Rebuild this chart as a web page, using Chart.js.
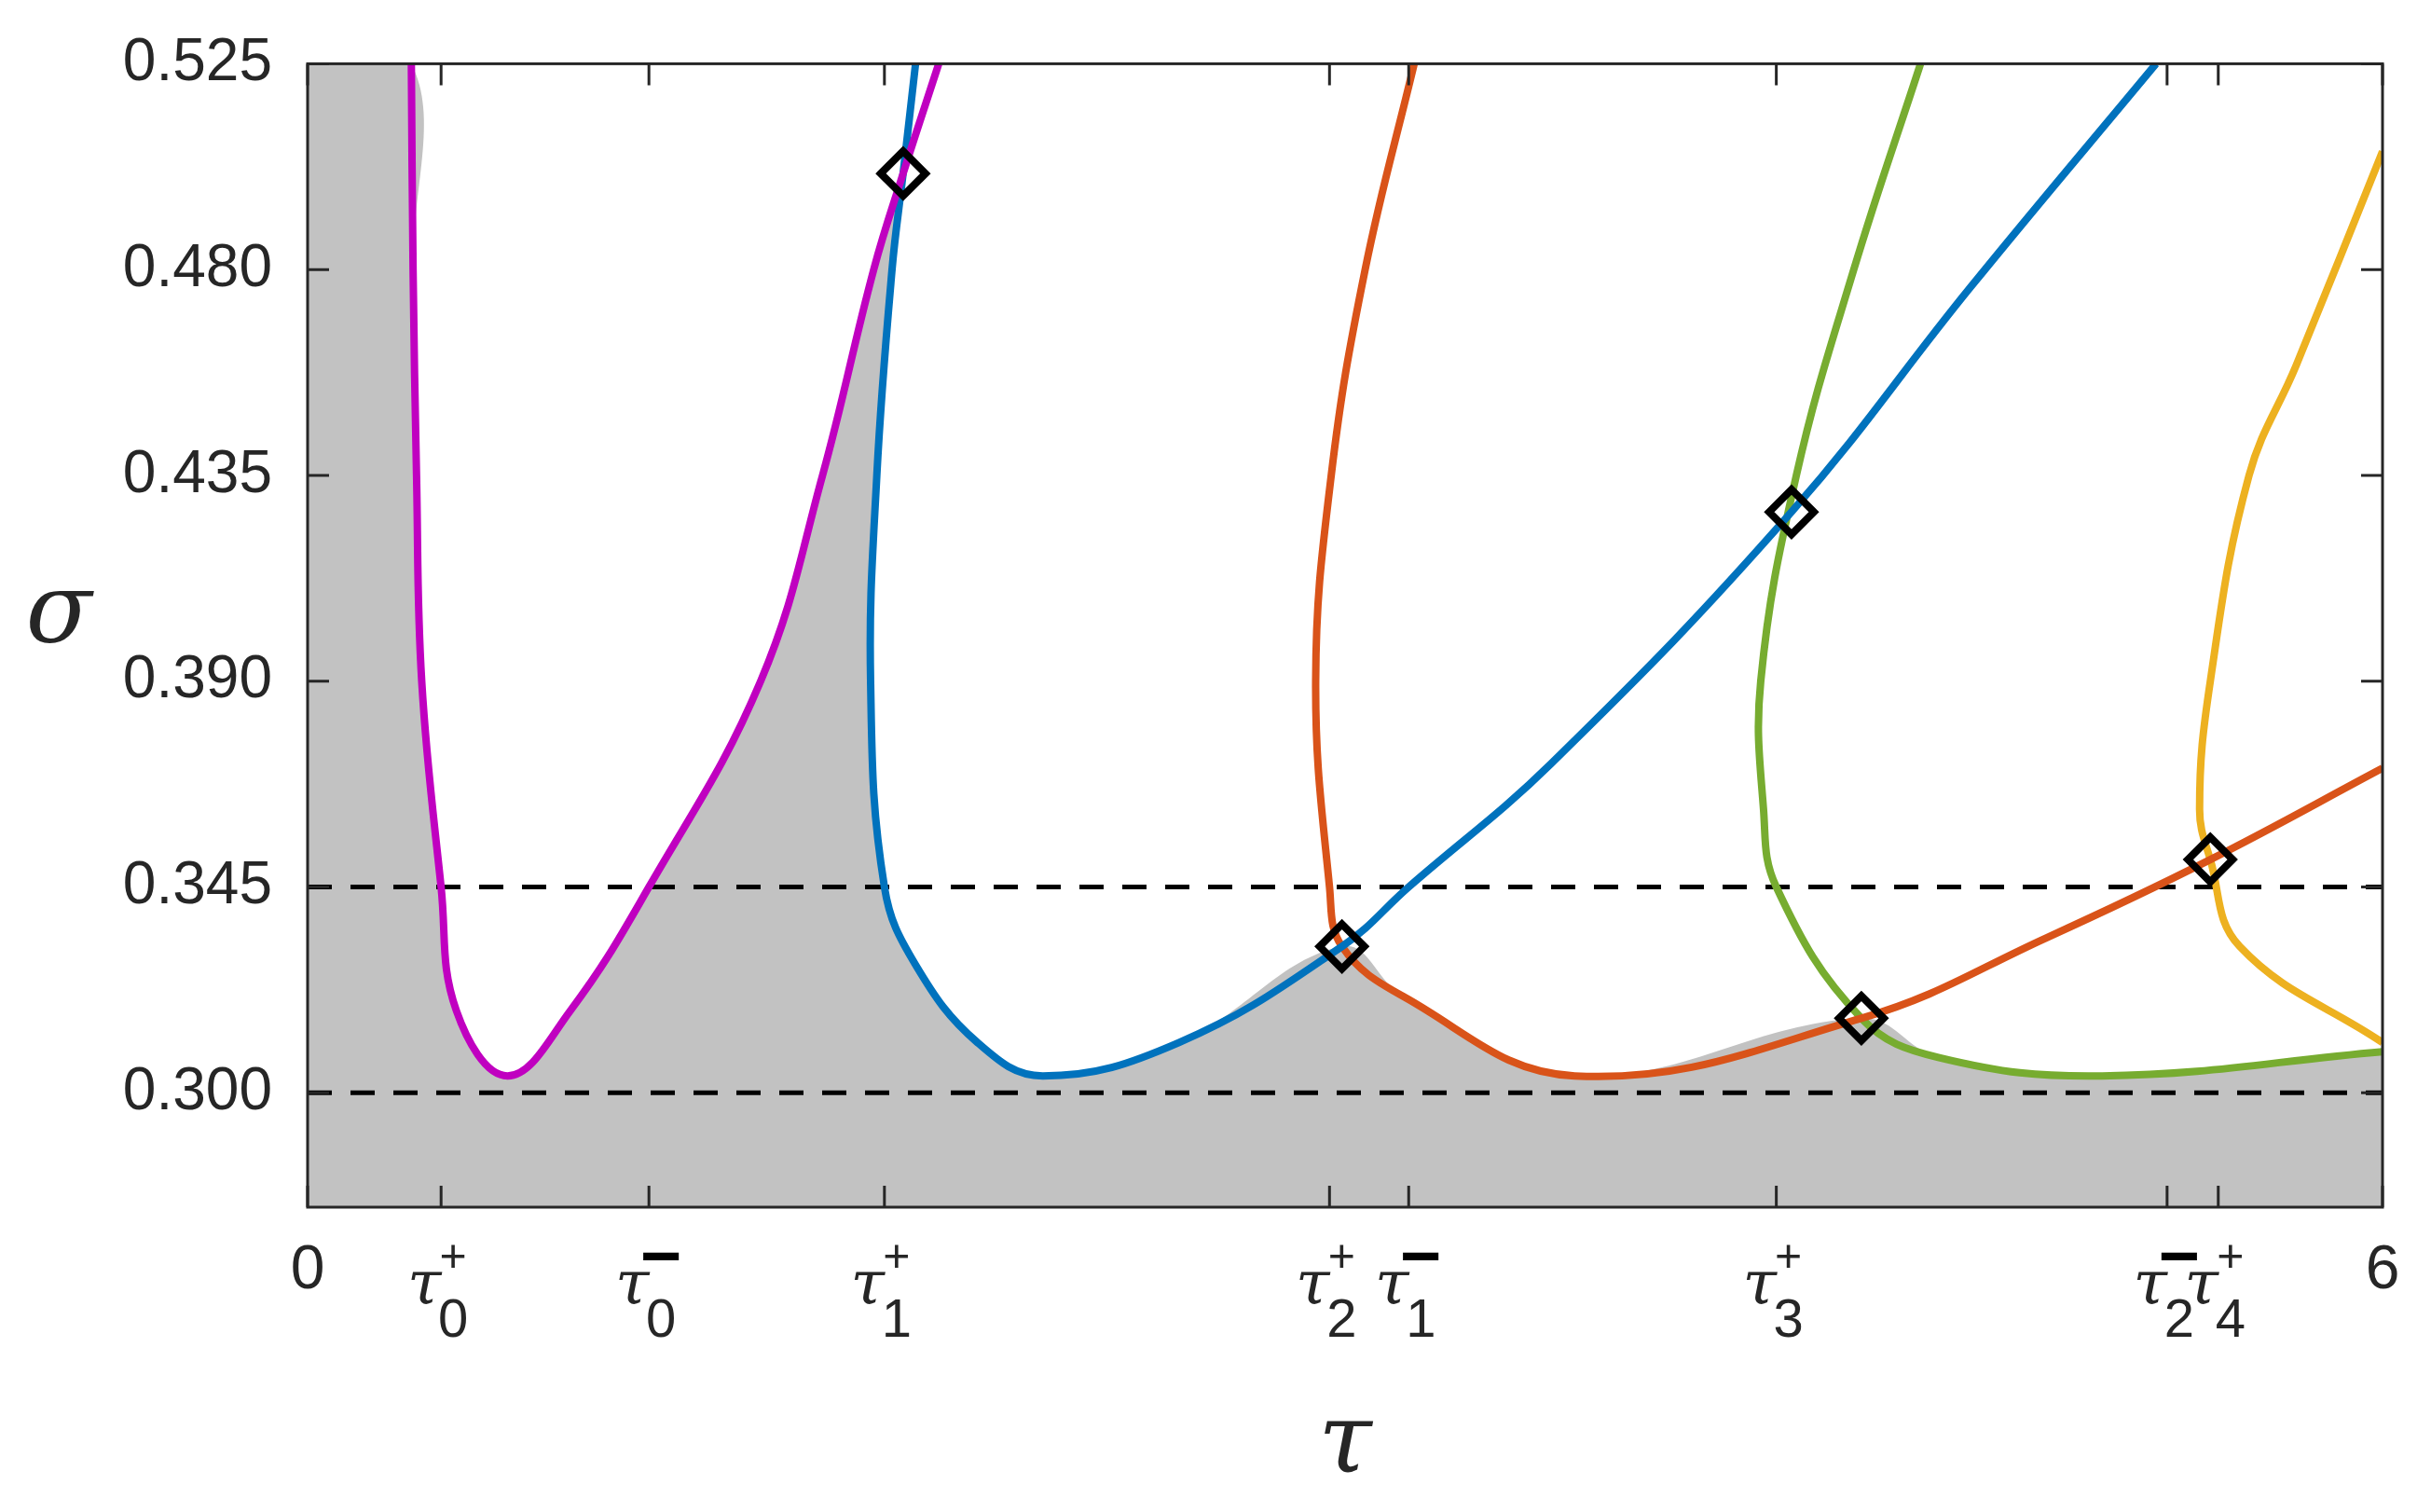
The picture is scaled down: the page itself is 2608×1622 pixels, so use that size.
<!DOCTYPE html>
<html><head><meta charset="utf-8">
<script src="https://cdn.jsdelivr.net/npm/chart.js@4/dist/chart.umd.min.js"></script>
<style>html,body{margin:0;padding:0;background:#fff}#w{width:2608px;height:1622px}</style>
</head><body><div id="w"><canvas id="c"></canvas></div>
<script>
const yTicks = [0.300, 0.345, 0.390, 0.435, 0.480, 0.525];
const xTickVals = [0, 0.386, 0.987, 1.668, 2.955, 3.184, 4.247, 5.377, 5.525, 6];
const xTickLabels = [
  {t:'0'}, {s:'0',p:'+'}, {s:'0',p:'−'}, {s:'1',p:'+'}, {s:'2',p:'+'},
  {s:'1',p:'−'}, {s:'3',p:'+'}, {s:'2',p:'−'}, {s:'4',p:'+'}, {t:'6'}
];
const magenta = [[0.30,0.525],[0.305,0.48],[0.315,0.435],[0.33,0.39],[0.386,0.345],[0.43,0.318],[0.578,0.3037],[0.76,0.318],[0.987,0.345],[1.31,0.39],[1.489,0.435],[1.637,0.48],[1.722,0.501],[1.825,0.525]];
const blue = [[1.758,0.525],[1.722,0.501],[1.69,0.48],[1.646,0.435],[1.628,0.39],[1.668,0.345],[1.758,0.328],[1.937,0.311],[2.126,0.3037],[2.52,0.311],[2.991,0.332],[3.184,0.345],[3.596,0.372],[4.291,0.427],[4.807,0.476],[5.345,0.525]];
const orange = [[3.2,0.525],[3.058,0.48],[2.96,0.435],[2.915,0.39],[2.955,0.345],[2.991,0.332],[3.17,0.321],[3.664,0.3037],[4.493,0.3163],[5.031,0.334],[5.502,0.351],[6.0,0.371]];
const green = [[4.664,0.525],[4.471,0.48],[4.305,0.435],[4.202,0.39],[4.21,0.362],[4.247,0.345],[4.493,0.3163],[4.718,0.3077],[5.189,0.3037],[6.0,0.309]];
const yellow = [[6.0,0.5058],[5.75,0.459],[5.614,0.435],[5.502,0.39],[5.471,0.362],[5.502,0.351],[5.587,0.332],[6.0,0.311]];
const grayBoundary = [[0,0.525],[0.30,0.525],[0.305,0.48],[0.315,0.435],[0.33,0.39],[0.386,0.345],[0.43,0.318],[0.578,0.3037],[0.76,0.318],[0.987,0.345],[1.31,0.39],[1.489,0.435],[1.637,0.48],[1.722,0.501],[1.69,0.48],[1.646,0.435],[1.628,0.39],[1.668,0.345],[1.758,0.328],[1.937,0.311],[2.126,0.3037],[2.52,0.311],[2.991,0.332],[3.17,0.321],[3.664,0.3037],[4.493,0.3163],[4.718,0.3077],[5.189,0.3037],[6.0,0.309]];
const diamonds = [[1.722,0.501],[2.991,0.332],[4.291,0.427],[4.493,0.3163],[5.502,0.351]];
const dashLevels = [0.345, 0.300];

const pts = a => a.map(([x,y])=>({x,y}));
const TXT = '#262626';
const curve = (d,c)=>({data:pts(d),showLine:true,borderColor:c,borderWidth:8,pointRadius:0,tension:0.4,fill:false,order:2});
const datasets = [
  {data:pts(grayBoundary),showLine:true,borderWidth:0,borderColor:'rgba(0,0,0,0)',backgroundColor:'#c2c2c2',pointRadius:0,tension:0.4,fill:'start',order:10},
  ...dashLevels.map(v=>({data:[{x:0,y:v},{x:6,y:v}],showLine:true,borderColor:'#000',borderWidth:5,borderDash:[26,20],pointRadius:0,fill:false,order:5})),
  curve(magenta,'#c000c0'), curve(blue,'#0072bd'), curve(orange,'#d95319'), curve(green,'#77ac30'), curve(yellow,'#edb120'),
  {data:pts(diamonds),showLine:false,pointStyle:'rectRot',pointRadius:24,pointBorderWidth:8,pointBorderColor:'#000',pointBackgroundColor:'rgba(0,0,0,0)',order:0}
];

const deco = {
  id:'deco',
  afterDatasetsDraw(ch){
    const {ctx, chartArea:a, scales:{x,y}} = ch;
    ctx.save();
    ctx.strokeStyle = TXT; ctx.lineWidth = 3;
    ctx.strokeRect(a.left, a.top, a.right-a.left, a.bottom-a.top);
    const L = 23;
    ctx.beginPath();
    xTickVals.forEach(v=>{const px=x.getPixelForValue(v);
      ctx.moveTo(px,a.bottom);ctx.lineTo(px,a.bottom-L);ctx.moveTo(px,a.top);ctx.lineTo(px,a.top+L);});
    yTicks.forEach(v=>{const py=y.getPixelForValue(v);
      ctx.moveTo(a.left,py);ctx.lineTo(a.left+L,py);ctx.moveTo(a.right,py);ctx.lineTo(a.right-L,py);});
    ctx.stroke();
    ctx.fillStyle = TXT; ctx.textBaseline='middle';
    xTickVals.forEach((v,i)=>{
      const px=x.getPixelForValue(v), lb=xTickLabels[i];
      if(lb.t){ctx.font='66px "Liberation Sans", Arial, sans-serif';ctx.textAlign='center';ctx.fillText(lb.t,px,1364);return;}
      ctx.textAlign='center';
      ctx.font='italic 66px "DejaVu Serif", serif'; ctx.fillText('τ',px-18,1382);
      ctx.font='58px "Liberation Sans", Arial, sans-serif'; ctx.fillText(lb.s,px+13,1418);
      if(lb.p==='+'){ctx.font='50px "Liberation Sans", Arial, sans-serif';ctx.fillText('+',px+13,1350);}
      else{ctx.fillStyle='#000';ctx.font='bold 76px "Liberation Sans", Arial, sans-serif';ctx.fillText('−',px+13,1352);ctx.fillStyle=TXT;}
    });
    ctx.font='italic 104px "DejaVu Serif", serif'; ctx.textAlign='center';
    ctx.fillText('τ',(a.left+a.right)/2,1552);
    ctx.fillText('σ',63,662);
    ctx.restore();
  }
};

new Chart(document.getElementById('c'),{
  type:'scatter',
  data:{datasets},
  options:{
    responsive:true, maintainAspectRatio:false, animation:false, devicePixelRatio:1,
    layout:{padding:{top:49,right:52,left:0,bottom:0}},
    plugins:{legend:{display:false},tooltip:{enabled:false}},
    scales:{
      x:{type:'linear',min:0,max:6,border:{display:false},grid:{display:false},
        afterBuildTicks:s=>{s.ticks=xTickVals.map(v=>({value:v}));},
        ticks:{callback:()=>''},
        afterFit:s=>{s.height=327;}},
      y:{type:'linear',min:0.275,max:0.525,border:{display:false},grid:{display:false},
        afterBuildTicks:s=>{s.ticks=yTicks.map(v=>({value:v}));},
        ticks:{callback:v=>v.toFixed(3),color:TXT,padding:30,font:{size:64,family:'"Liberation Sans", Arial, sans-serif'}},
        afterFit:s=>{s.width=330;}}
    }
  },
  plugins:[deco]
});
</script></body></html>
